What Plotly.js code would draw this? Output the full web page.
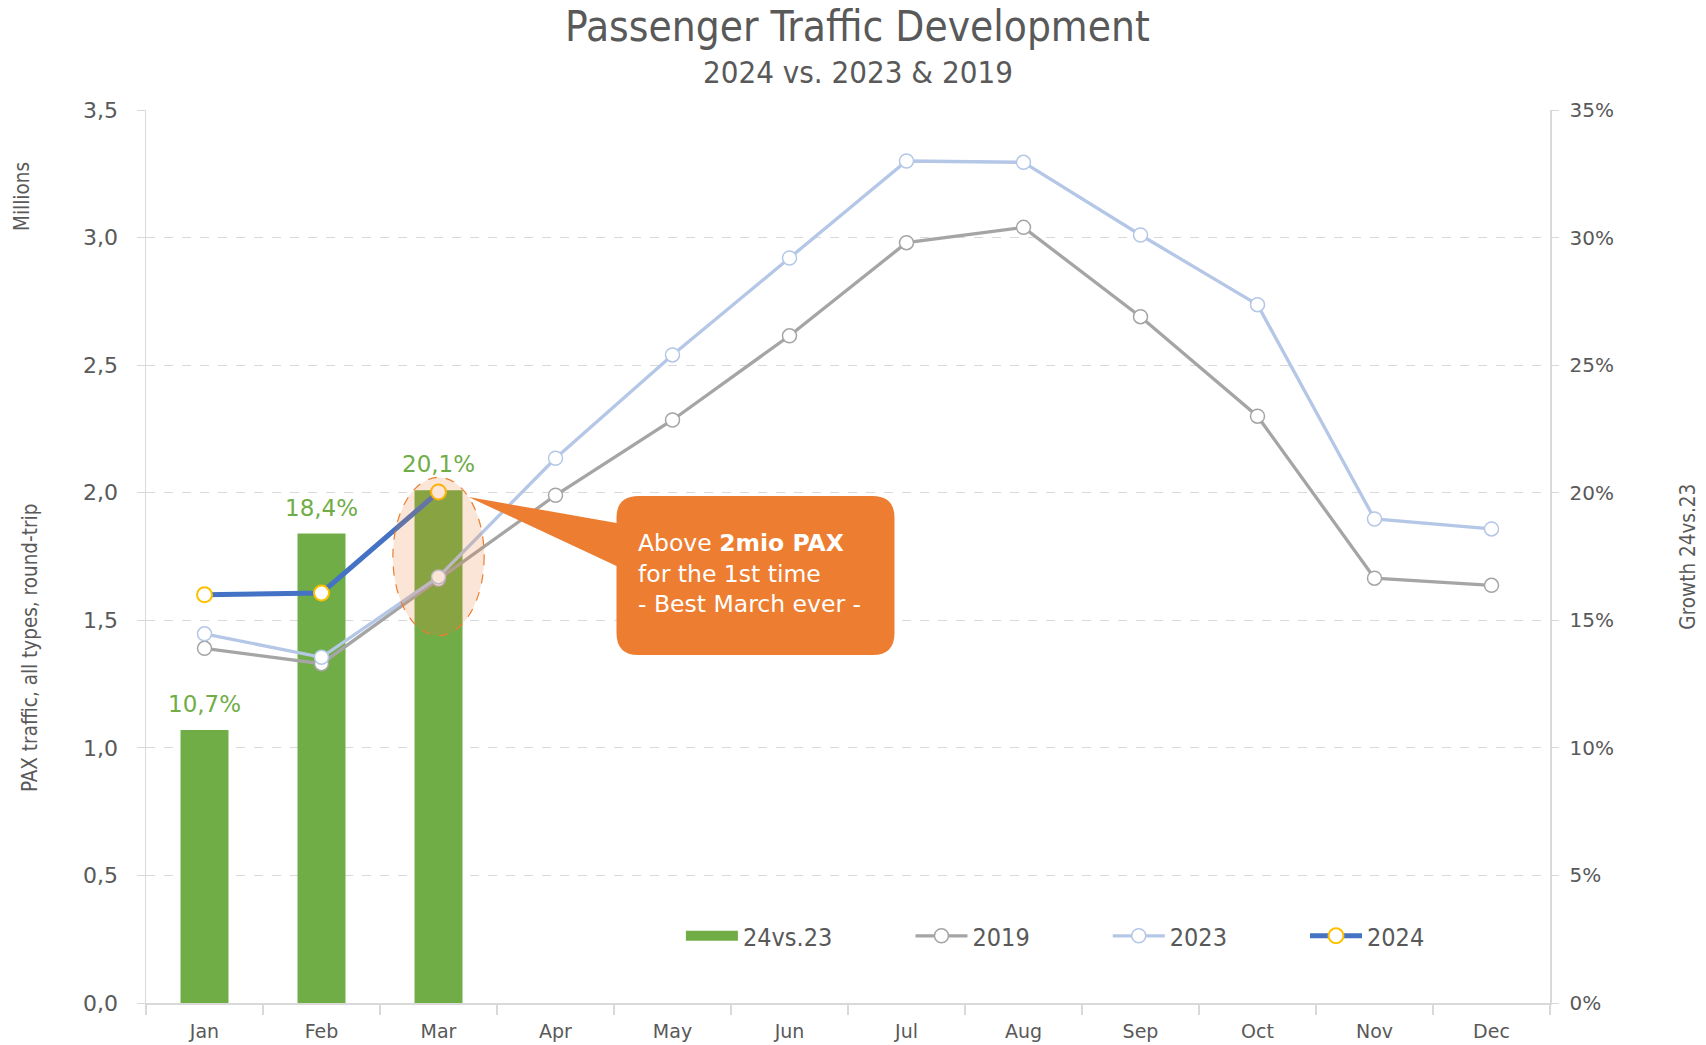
<!DOCTYPE html>
<html>
<head>
<meta charset="utf-8">
<script src="https://cdn.plot.ly/plotly-3.0.1.min.js"></script>
<style>html,body{margin:0;padding:0;background:#fff;}#chart{width:1706px;height:1045px;}</style>
</head>
<body>
<div id="chart"></div>
<script>
const months = ["Jan","Feb","Mar","Apr","May","Jun","Jul","Aug","Sep","Oct","Nov","Dec"];
const pax2019 = [1.39,1.33,1.66,1.99,2.285,2.615,2.98,3.04,2.69,2.30,1.665,1.637];
const pax2023 = [1.447,1.355,1.67,2.135,2.54,2.92,3.30,3.295,3.01,2.737,1.897,1.858];
const pax2024 = [1.60,1.607,2.003];
const growth = [10.7,18.4,20.1];
const growthMonths = months.slice(0,3);

const condensed = "DejaVu Sans Condensed, DejaVu Sans, sans-serif";
const wide = "DejaVu Sans, Verdana, sans-serif";
const grey = "#595959";
const green = "#70AD47";

const legendFont = {family:condensed, size:25, color:grey};
function legendAt(x){
  return {orientation:"h", x:x, y:0.075, xanchor:"left", yanchor:"middle",
          font:legendFont, bgcolor:"rgba(0,0,0,0)", itemwidth:52};
}

const traces = [
  {type:"bar", name:"24vs.23", x:growthMonths, y:growth, yaxis:"y",
   marker:{color:green}, width:0.41, showlegend:false, hoverinfo:"skip"},
  // legend swatch for the bars (no data of its own)
  {type:"scatter", mode:"lines", name:"24vs.23", x:[null], y:[null], yaxis:"y",
   line:{color:green, width:16}, legend:"legend", hoverinfo:"skip"},
  {type:"scatter", mode:"lines+markers", name:"2019", x:months, y:pax2019, yaxis:"y2",
   line:{color:"#A5A5A5", width:3.3}, legend:"legend2",
   marker:{size:14, color:"#ffffff", line:{color:"#A5A5A5", width:1.5}}},
  {type:"scatter", mode:"lines+markers", name:"2023", x:months, y:pax2023, yaxis:"y2",
   line:{color:"#B4C7E7", width:3.3}, legend:"legend3",
   marker:{size:14, color:"#ffffff", line:{color:"#B4C7E7", width:1.5}}},
  {type:"scatter", mode:"lines+markers", name:"2024", x:growthMonths, y:pax2024, yaxis:"y2",
   line:{color:"#4472C4", width:5}, legend:"legend4",
   marker:{size:15, color:"#ffffff", line:{color:"#FFC000", width:2}}}
];

// callout geometry in pixels relative to the March 2024 point (y up)
const L=178, R=456, T=-4, B=-163, r=22;
const callout = `M${L+r},${T} L${R-r},${T} Q${R},${T} ${R},${T-r} L${R},${B+r} Q${R},${B} ${R-r},${B} L${L+r},${B} Q${L},${B} ${L},${B+r} L${L},-74 L30,-5 L${L},-31 L${L},${T-r} Q${L},${T} ${L+r},${T} Z`;

const barLabels = growth.map((v,i)=>({
  text: v.toFixed(1).replace(".", ",") + "%", xref:"x", yref:"y", x:growthMonths[i], y:v,
  xanchor:"center", yanchor:"middle", yshift:26, showarrow:false,
  font:{family:wide, size:23, color:green}
}));

const layout = {
  width:1706, height:1045,
  margin:{l:146, r:156, t:110, b:42},
  paper_bgcolor:"#ffffff", plot_bgcolor:"#ffffff",
  separators:",.",
  showlegend:true,
  font:{family:condensed, color:grey},
  xaxis:{type:"category", categoryarray:months, categoryorder:"array",
    range:[-0.5,11.5], showline:true, linecolor:"#D9D9D9", linewidth:1.5,
    ticks:"outside", tickson:"boundaries", ticklen:10, tickcolor:"#D9D9D9", tickwidth:1.5,
    showgrid:false, tickfont:{family:wide, size:19, color:grey}, ticklabelstandoff:11,
    zeroline:false, fixedrange:true},
  yaxis:{side:"right", range:[0,35], dtick:5, ticksuffix:"%",
    showline:true, linecolor:"#D9D9D9", linewidth:1.5,
    ticks:"outside", ticklen:7, tickcolor:"#D9D9D9",
    showgrid:true, gridcolor:"#D9D9D9", griddash:"dash", gridwidth:1,
    zeroline:false, tickfont:{family:wide, size:20, color:grey}, ticklabelstandoff:7},
  yaxis2:{overlaying:"y", side:"left", range:[0,3.5], dtick:0.5, tickformat:".1f",
    showline:true, linecolor:"#D9D9D9", linewidth:1.5,
    ticks:"outside", ticklen:8, tickcolor:"#D9D9D9",
    showgrid:false, zeroline:false, tickfont:{family:wide, size:22, color:grey}, ticklabelstandoff:14},
  legend:legendAt(0.381),
  legend2:legendAt(0.5445),
  legend3:legendAt(0.685),
  legend4:legendAt(0.8255),
  shapes:[
    {type:"circle", xref:"x", yref:"y2", x0:1.61, x1:2.39, y0:1.44, y1:2.06,
     fillcolor:"rgba(237,125,49,0.2)", line:{color:"#ED7D31", width:1.2, dash:"dash"}, layer:"above"},
    {type:"path", xref:"x", yref:"y2", xsizemode:"pixel", ysizemode:"pixel",
     xanchor:2, yanchor:pax2024[2], path:callout,
     fillcolor:"#ED7D31", line:{width:0}, layer:"above"}
  ],
  annotations:[
    {text:"Passenger Traffic Development", xref:"paper", yref:"paper", x:0.507, y:1.093,
     xanchor:"center", yanchor:"middle", showarrow:false,
     font:{family:condensed, size:42, color:grey}},
    {text:"2024 vs. 2023 & 2019", xref:"paper", yref:"paper", x:0.507, y:1.0426,
     xanchor:"center", yanchor:"middle", showarrow:false,
     font:{family:condensed, size:31, color:grey}},
    {text:"Millions", xref:"paper", yref:"paper", x:-0.0883, y:0.9026, textangle:-90,
     xanchor:"center", yanchor:"middle", showarrow:false,
     font:{family:condensed, size:20.5, color:grey}},
    {text:"PAX traffic, all types, round-trip", xref:"paper", yref:"paper", x:-0.0826, y:0.3975, textangle:-90,
     xanchor:"center", yanchor:"middle", showarrow:false,
     font:{family:condensed, size:20.5, color:grey}},
    {text:"Growth 24vs.23", xref:"paper", yref:"paper", x:1.098, y:0.4994, textangle:-90,
     xanchor:"center", yanchor:"middle", showarrow:false,
     font:{family:condensed, size:20.5, color:grey}},
    {text:"Above <b>2mio PAX</b><br>for the 1st time<br>- Best March ever -", xref:"x", yref:"y2",
     x:2, y:pax2024[2], xanchor:"left", yanchor:"top", align:"left", showarrow:false,
     xshift:197, yshift:-35,
     font:{family:wide, size:23.5, color:"#ffffff"}}
  ].concat(barLabels)
};

Plotly.newPlot("chart", traces, layout, {displayModeBar:false, staticPlot:true});
</script>
</body>
</html>
